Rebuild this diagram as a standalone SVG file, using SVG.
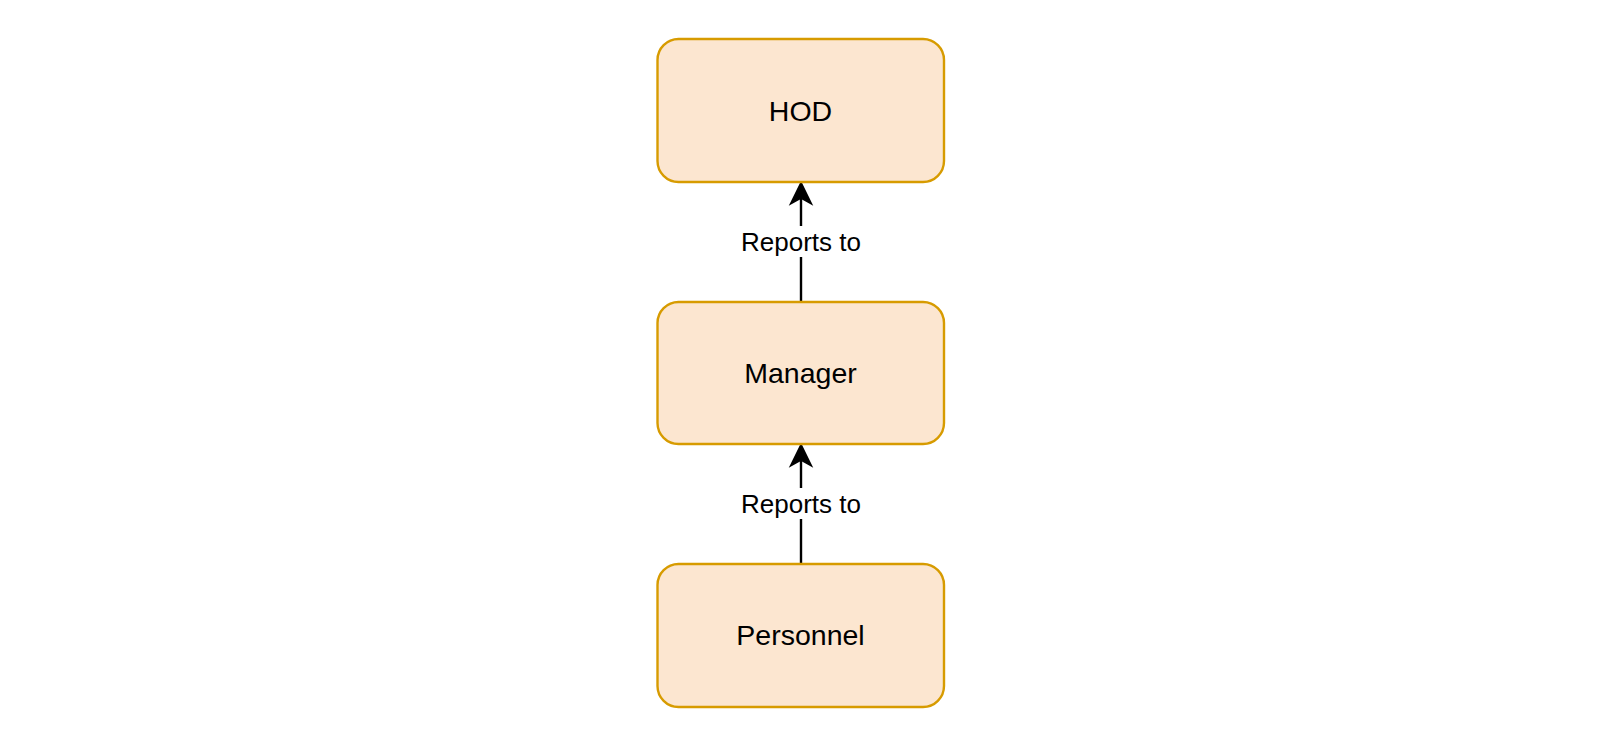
<svg xmlns="http://www.w3.org/2000/svg" width="1608" height="732" viewBox="0 0 1608 732">
  <style>
    .box { fill: #fce6d0; stroke: #d79b00; stroke-width: 2.4; }
    .lbl { font-family: "Liberation Sans", Arial, sans-serif; font-size: 28.5px; fill: #000; text-anchor: middle; }
    .elbl { font-family: "Liberation Sans", Arial, sans-serif; font-size: 26px; fill: #000; text-anchor: middle; }
    .edge { stroke: #000; stroke-width: 2.4; fill: none; }
    .lblbg { fill: #fff; }
  </style>
  <defs>
    <marker id="arrow" markerUnits="userSpaceOnUse" markerWidth="24" markerHeight="26" viewBox="0 0 24 26" refX="12" refY="0" orient="auto-start-reverse" overflow="visible">
      <path d="M0,0 L-10.5,22 L0,16 L10.5,22 Z" fill="#000" stroke="#000" stroke-width="1" transform="translate(12,0)"/>
    </marker>
  </defs>
  <rect width="1608" height="732" fill="#fff"/>
  <g id="connectors">
    <g id="edge-manager-hod">
      <path class="edge" d="M801,301 L801,197"/>
      <path d="M801,182.5 L790.5,204 L801,198 L811.5,204 Z" fill="#000" stroke="#000" stroke-width="1.5" stroke-linejoin="miter"/>
      <rect class="lblbg" x="740" y="226" width="122" height="31"/>
      <text class="elbl" x="801" y="251">Reports to</text>
    </g>
    <g id="edge-personnel-manager">
      <path class="edge" d="M801,563 L801,459"/>
      <path d="M801,444.5 L790.5,466 L801,460 L811.5,466 Z" fill="#000" stroke="#000" stroke-width="1.5" stroke-linejoin="miter"/>
      <rect class="lblbg" x="740" y="488" width="122" height="31"/>
      <text class="elbl" x="801" y="513">Reports to</text>
    </g>
  </g>
  <g id="node-hod">
    <rect class="box" x="657.5" y="39" width="286.5" height="143" rx="21" ry="21"/>
    <text class="lbl" x="800.5" y="120.5">HOD</text>
  </g>
  <g id="node-manager">
    <rect class="box" x="657.5" y="302" width="286.5" height="142" rx="21" ry="21"/>
    <text class="lbl" x="800.5" y="383">Manager</text>
  </g>
  <g id="node-personnel">
    <rect class="box" x="657.5" y="564" width="286.5" height="143" rx="21" ry="21"/>
    <text class="lbl" x="800.5" y="645">Personnel</text>
  </g>
</svg>
